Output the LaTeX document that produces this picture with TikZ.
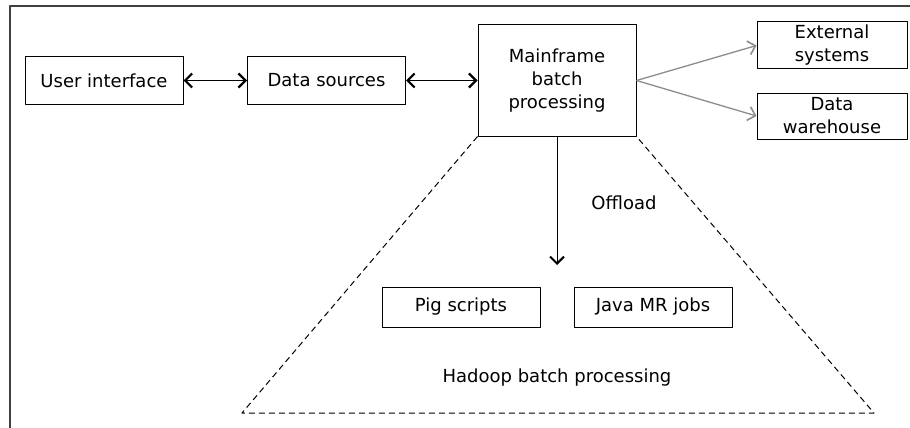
\documentclass[tikz,border=0pt]{standalone}
\usepackage{fontspec}
\setmainfont{DejaVu Sans}
\usetikzlibrary{arrows.meta,calc,positioning}
\tikzset{box/.style={draw,line width=1pt,minimum width=158pt,minimum height=47pt,inner sep=0pt,align=center},
barb/.style={line width=1.5pt,{Straight Barb[length=7pt,width=14pt,line width=2.2pt]}-{Straight Barb[length=7pt,width=14pt,line width=2.2pt]}}}
\begin{document}
\begin{tikzpicture}[x=1pt,y=-1pt,line join=round,font=\fontsize{18}{23}\selectfont]
\useasboundingbox (0,0) rectangle (910,428);
\draw[line width=1.6pt,black!75](10,428)--(10,6)--(910,6);
\node[box] (ui) at (104,80.5) {User interface};
\node[box] (ds) at (326.5,80.5) {Data sources};
\node[box,minimum height=111pt] (mf) at (557,80.5) {Mainframe\\batch\\processing};
\node[box,minimum width=150pt] (ext) at (832,45.5) {External\\systems};
\node[box,minimum width=150pt,minimum height=46pt] (dw) at (832,116) {Data\\warehouse};
\node[box,minimum height=40pt] (pig) at (461,307) {Pig scripts};
\node[box,minimum height=40pt] (java) at (653,307) {Java MR jobs};
\node (off) at (624,203) {Offload};
\node (hb) at (557,378) {Hadoop batch processing};
\coordinate (BL) at (242,413);
\coordinate (BR) at (874,413);
\coordinate (T) at (557,265);
\draw[barb](ui)--(ds);
\draw[barb](ds)--(mf);
\foreach \t in {ext,dw}{\draw[black!45,line width=1.3pt,-{Straight Barb[length=7pt,width=14pt,line width=1.6pt]}](mf.east)--(\t.west);}
\draw[line width=1pt,-{Straight Barb[length=7pt,width=14pt,line width=2pt]}](mf.south)--(T);
\draw[line width=1pt,dash pattern=on 6pt off 4pt](mf.south west)--(BL)--(BR)--(mf.south east);
\end{tikzpicture}
\end{document}
